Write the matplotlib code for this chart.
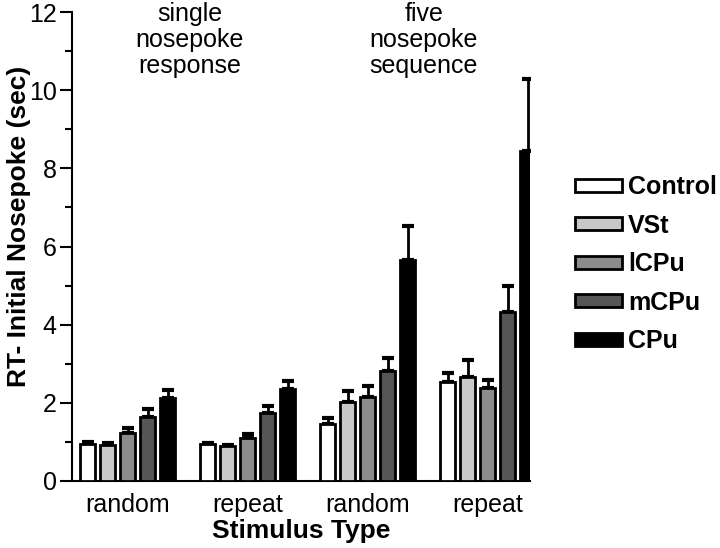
import matplotlib
matplotlib.use("Agg")
import matplotlib.pyplot as plt
import numpy as np
from matplotlib.ticker import MultipleLocator

plt.rcParams['font.family'] = ['Liberation Sans', 'DejaVu Sans']

groups = ["random", "repeat", "random", "repeat"]
series = ["Control", "VSt", "lCPu", "mCPu", "CPu"]
colors = ["#ffffff", "#c8c8c8", "#8c8c8c", "#555555", "#000000"]

means = {
    "Control": [0.95, 0.95, 1.46, 2.53],
    "VSt":     [0.93, 0.90, 2.02, 2.66],
    "lCPu":    [1.22, 1.10, 2.15, 2.38],
    "mCPu":    [1.65, 1.75, 2.81, 4.32],
    "CPu":     [2.12, 2.35, 5.65, 8.44],
}
errs = {
    "Control": [0.05, 0.03, 0.15, 0.23],
    "VSt":     [0.04, 0.03, 0.28, 0.43],
    "lCPu":    [0.13, 0.10, 0.28, 0.20],
    "mCPu":    [0.20, 0.18, 0.34, 0.67],
    "CPu":     [0.20, 0.20, 0.87, 1.84],
}

fig = plt.figure(figsize=(7.2, 5.48), dpi=100)
ax = fig.add_axes([0.1, 0.1223, 0.636, 0.8557])

centers = np.arange(len(groups)) * 6.0
for i, s in enumerate(series):
    x = centers + (i - 2)
    ax.bar(x, means[s], width=0.75, color=colors[i], edgecolor="black",
           linewidth=2, label=s, zorder=3)
    ax.errorbar(x, means[s], yerr=[np.zeros(len(x)), errs[s]], fmt='none',
                ecolor="black", elinewidth=2, capsize=4, capthick=3, zorder=2)

ax.set_xlim(-2.78, 20.1)
ax.set_ylim(0, 12)
ax.yaxis.set_major_locator(MultipleLocator(2))
ax.yaxis.set_minor_locator(MultipleLocator(1))
ax.tick_params(axis='y', which='major', length=9, width=1.5, labelsize=18, direction='out', pad=2)
ax.tick_params(axis='y', which='minor', length=5, width=1.5)
ax.set_xticks(centers)
ax.set_xticklabels(groups, fontsize=18)
ax.tick_params(axis='x', length=0, pad=9)
for sp in ['top', 'right']:
    ax.spines[sp].set_visible(False)
ax.spines['left'].set_linewidth(1.5)
ax.spines['bottom'].set_linewidth(1.5)

ax.set_ylabel("RT- Initial Nosepoke (sec)", fontsize=19, fontweight='bold')
ax.yaxis.set_label_coords(-0.09, 0.544)
ax.set_xlabel("Stimulus Type", fontsize=19, fontweight='bold', labelpad=1)

ax.text(3.1, 12.25, "single\nnosepoke\nresponse", ha='center', va='top', fontsize=18,
        linespacing=1.1, clip_on=False)
ax.text(14.8, 12.25, "five\nnosepoke\nsequence", ha='center', va='top', fontsize=18,
        linespacing=1.1, clip_on=False)

leg = fig.legend(loc='center left', bbox_to_anchor=(0.799, 0.518), frameon=False,
                 borderpad=0, borderaxespad=0,
                 prop={'size': 18, 'weight': 'bold'}, handlelength=1.85, handleheight=0.45,
                 handletextpad=0.25, labelspacing=0.58)

fig.savefig("out.png", dpi=100)
